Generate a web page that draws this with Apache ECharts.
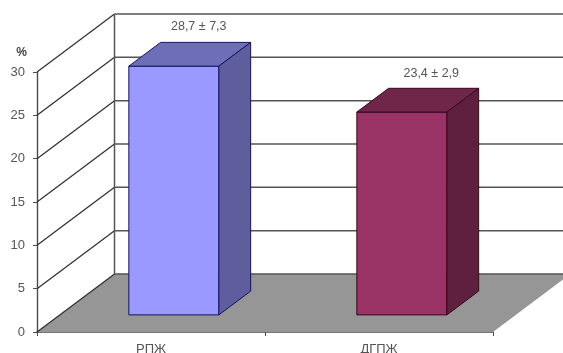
<!DOCTYPE html>
<html>
<head>
<meta charset="utf-8">
<style>html,body{margin:0;padding:0;background:#fff}#chart{width:563px;height:353px}</style>
<script src="https://cdn.jsdelivr.net/npm/echarts@6/dist/echarts.min.js"></script>
</head>
<body>
<div id="chart"></div>
<script>
const categories = ['РПЖ', 'ДГПЖ'];
const means = [28.7, 23.4];
const deviations = [7.3, 2.9];
const yTicks = [0, 5, 10, 15, 20, 25, 30];

// Oblique projection of the chart's depth, in pixels for the full floor depth.
const DEPTH_X = 77.5;
const DEPTH_Y = -58;
// Where a bar sits in the depth range and across its category band.
const BAR_NEAR = 0.295;
const BAR_FAR = 0.705;
const BAR_BAND_SHARE = 0.395;
// The annotations were placed by hand above each bar.
const NOTE_SHIFT_X = [9, 13.5];
const NOTE_SHIFT_Y = [-15.5, -15];

const barPalette = [
  { front: '#9999ff', top: '#6d6db8', side: '#5e5e9e', edge: '#14145e' },
  { front: '#993366', top: '#702649', side: '#5f1f3e', edge: '#36091f' }
];

const fmt = v => v.toFixed(1).replace('.', ',');

function shifted(p, depth) {
  return [p[0] + DEPTH_X * depth, p[1] + DEPTH_Y * depth];
}

function renderFloor(params, api) {
  const band = api.size([1, 0])[0];
  const left = api.coord([0, 0]);
  left[0] -= band / 2;
  const right = api.coord([categories.length - 1, 0]);
  right[0] += band / 2;
  return {
    type: 'polygon',
    shape: { points: [left, shifted(left, 1), shifted(right, 1), right] },
    style: { fill: '#969696', stroke: null }
  };
}

function renderGridLine(params, api) {
  const v = api.value(0);
  const band = api.size([1, 0])[0];
  const left = api.coord([0, v]);
  left[0] -= band / 2;
  const right = api.coord([categories.length - 1, v]);
  right[0] += band / 2;
  const wallStyle = { stroke: '#2e2e2e', lineWidth: 1.2, fill: null };
  const backStyle = { stroke: '#555555', lineWidth: 1.5, fill: null };
  const corner = shifted(left, 1);
  const children = [
    {
      type: 'line',
      shape: { x1: left[0], y1: left[1], x2: corner[0], y2: corner[1] },
      style: wallStyle
    },
    {
      type: 'polyline',
      shape: { points: [corner, shifted(right, 1)] },
      style: backStyle
    }
  ];
  if (v === yTicks[yTicks.length - 1]) {
    // Vertical corner where the side wall meets the back wall.
    const base = api.coord([0, 0]);
    base[0] -= band / 2;
    const foot = shifted(base, 1);
    children.push({
      type: 'line',
      shape: { x1: corner[0], y1: corner[1], x2: foot[0], y2: foot[1] },
      style: backStyle
    });
  }
  return { type: 'group', children };
}

function renderBar(params, api) {
  const i = api.value(0);
  const band = api.size([1, 0])[0];
  const half = band * BAR_BAND_SHARE / 2;
  const top = api.coord([i, api.value(1)]);
  const bottom = api.coord([i, 0]);
  const c = barPalette[i];
  const corner = (x, y, d) => shifted([x, y], d);
  const fl = corner(top[0] - half, bottom[1], BAR_NEAR);
  const fr = corner(top[0] + half, bottom[1], BAR_NEAR);
  const tl = corner(top[0] - half, top[1], BAR_NEAR);
  const tr = corner(top[0] + half, top[1], BAR_NEAR);
  const bl = corner(top[0] - half, top[1], BAR_FAR);
  const br = corner(top[0] + half, top[1], BAR_FAR);
  const rb = corner(top[0] + half, bottom[1], BAR_FAR);
  const face = (points, fill) => ({
    type: 'polygon',
    shape: { points },
    style: { fill, stroke: c.edge, lineWidth: 1, lineJoin: 'round' }
  });
  return {
    type: 'group',
    children: [
      face([fl, fr, tr, tl], c.front),
      face([tl, tr, br, bl], c.top),
      face([fr, rb, br, tr], c.side),
      {
        type: 'text',
        style: {
          x: (tl[0] + br[0]) / 2 + NOTE_SHIFT_X[i],
          y: br[1] + NOTE_SHIFT_Y[i],
          text: fmt(means[i]) + ' ± ' + fmt(deviations[i]),
          fill: '#555555',
          font: '12.5px "Liberation Sans", Arial, sans-serif',
          align: 'center',
          verticalAlign: 'middle'
        }
      }
    ]
  };
}

const chart = echarts.init(document.getElementById('chart'), null, { renderer: 'canvas' });
chart.setOption({
  animation: false,
  backgroundColor: '#fff',
  grid: { left: 37, right: 70, top: 72, height: 260, outerBoundsMode: 'none' },
  xAxis: {
    type: 'category',
    data: categories,
    boundaryGap: true,
    axisLine: { lineStyle: { color: '#4a4a4a', width: 1.5 } },
    axisTick: { show: true, length: 4, alignWithLabel: false, lineStyle: { color: '#4a4a4a' } },
    axisLabel: { color: '#555555', fontSize: 13, margin: 11, fontFamily: '"Liberation Sans", Arial, sans-serif' }
  },
  yAxis: {
    type: 'value',
    min: 0,
    max: 30,
    interval: 5,
    name: '%',
    nameLocation: 'end',
    nameGap: 13,
    nameTextStyle: { color: '#444', fontSize: 12, fontWeight: 'bold', align: 'right', padding: [0, 10, 0, 0], fontFamily: '"Liberation Sans", Arial, sans-serif' },
    axisLine: { show: true, onZero: false, lineStyle: { color: '#4a4a4a', width: 1.4 } },
    axisTick: { show: true, length: 4, lineStyle: { color: '#4a4a4a' } },
    axisLabel: {
      color: '#555555', fontSize: 13, margin: 12, padding: [3, 0, 0, 0],
      fontFamily: '"Liberation Sans", Arial, sans-serif'
    },
    splitLine: { show: false }
  },
  series: [
    {
      type: 'custom',
      name: 'floor',
      z: 1,
      renderItem: renderFloor,
      encode: { x: 0, y: 1 },
      data: [[0, 0]],
      silent: true
    },
    {
      type: 'custom',
      name: 'gridlines',
      z: 2,
      renderItem: renderGridLine,
      encode: { y: 0 },
      data: yTicks.map(v => [v]),
      silent: true
    },
    {
      type: 'custom',
      name: 'bars',
      z: 3,
      renderItem: renderBar,
      encode: { x: 0, y: 1 },
      data: means.map((m, i) => [i, m])
    }
  ]
});
</script>
</body>
</html>
